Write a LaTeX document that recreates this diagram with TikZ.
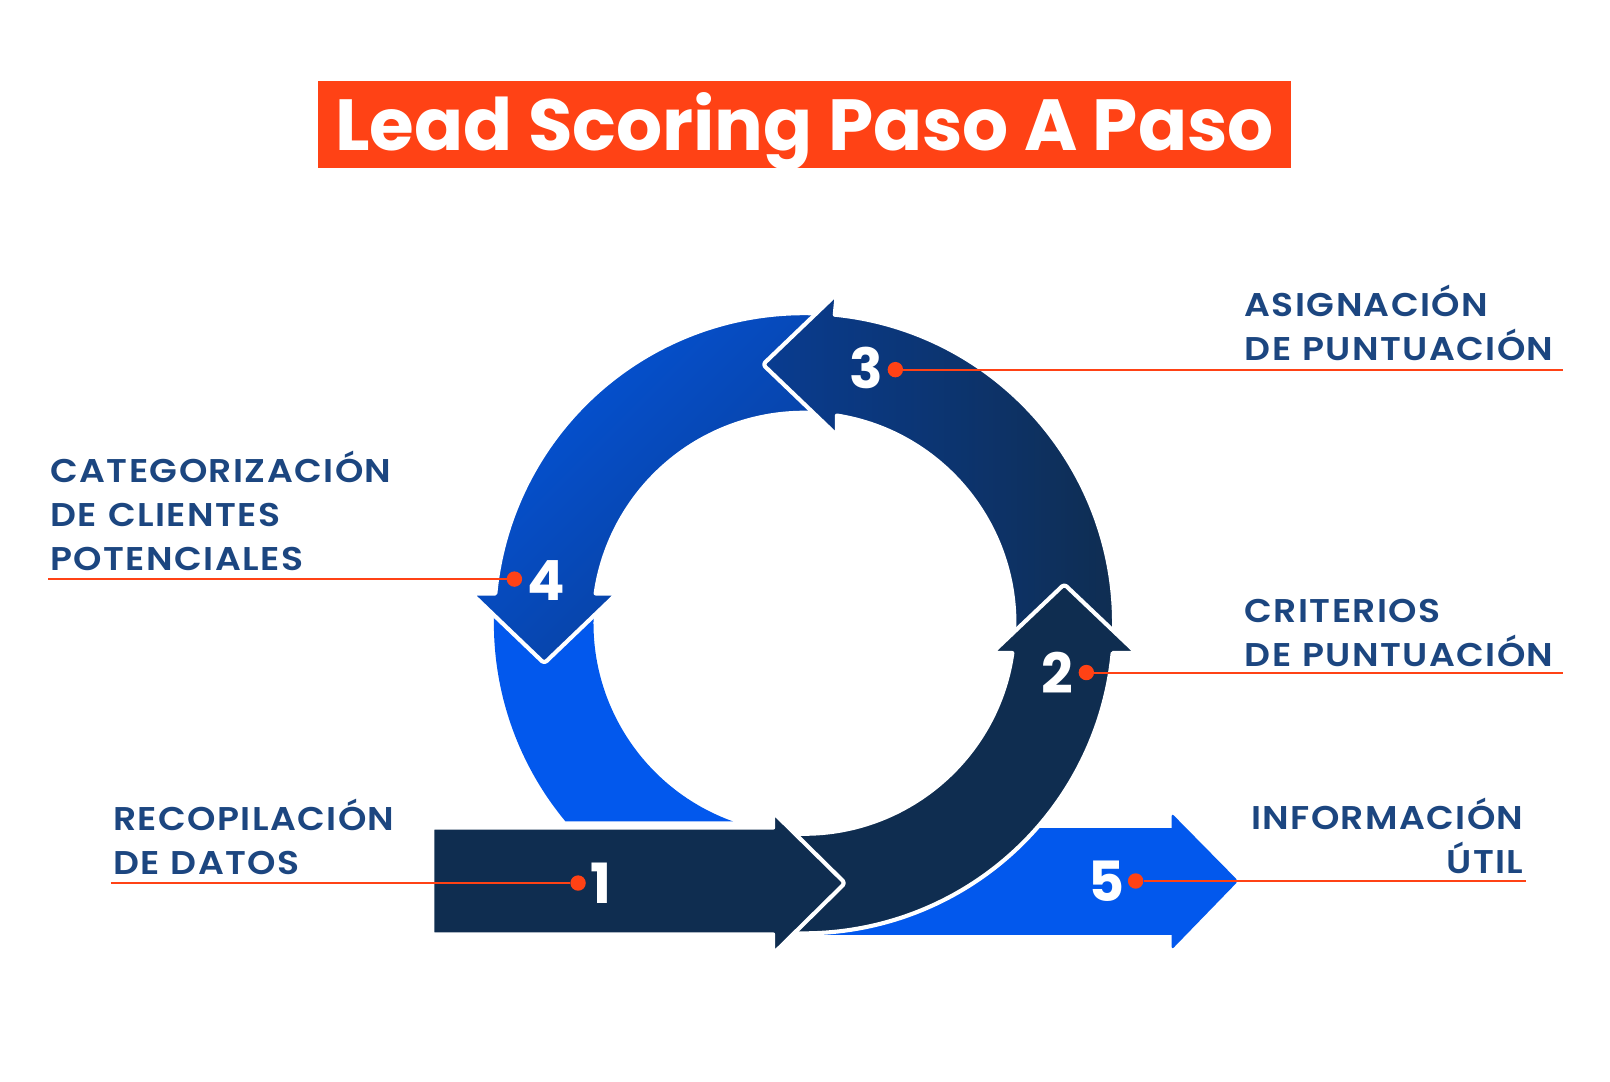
\documentclass[tikz,border=0pt]{standalone}
\usepackage{fontspec}
\setmainfont{Poppins}
\newfontfamily\lblfont{Poppins SemiBold}[FakeStretch=1.1,LetterSpace=4.3,WordSpace=1.1]
\definecolor{navy}{RGB}{15,45,80}
\definecolor{midblue}{RGB}{9,60,145}
\definecolor{upblue}{RGB}{7,70,168}
\definecolor{leftblue}{RGB}{4,84,218}
\definecolor{brightblue}{RGB}{2,88,237}
\definecolor{scorered}{RGB}{255,66,21}
\definecolor{labelblue}{RGB}{28,70,128}

\begin{document}
\begin{tikzpicture}[x=1pt,y=1pt,
  seg/.style={draw=white,line width=4,line join=round},
  dot/.style={circle,fill=scorered,inner sep=0,minimum size=15},
  leader/.style={draw=scorered,line width=2},
  num/.style={text=white,font=\fontsize{54}{60}\selectfont\bfseries,inner sep=0},
  lbl/.style={text=labelblue,font=\fontsize{32}{43}\selectfont\lblfont,inner sep=0}]
  \useasboundingbox (0,0) rectangle (1568,1053);
  \coordinate (O) at (783,446);
  % title
  \node[fill=scorered,minimum width=947,minimum height=85,inner sep=0,text height=51,text depth=0,
    text=white,font=\fontsize{70.5}{80}\selectfont\bfseries] (title) at (783.5,931.5) {Lead Scoring Paso A Paso};
  % arrows, back to front
  \path[fill=brightblue] (800,142.6) -- (830,246.4) -- (1141,246.4) [rounded corners=3] -- (1141,261) -- (1206,195) -- (1141,128) [sharp corners] -- (1141,142.6) -- cycle;
  \path[fill=brightblue] (O) ++(175:302) arc[start angle=175,end angle=219.7,radius=302] -- (713.9,253) arc[start angle=250.3,end angle=175,radius=205] -- cycle;
  \path[seg,left color=leftblue,middle color=upblue,right color=midblue,shading angle=45] (O) ++(80:302) arc[start angle=80,end angle=174.49,radius=302] [rounded corners=3] -- (459,475) -- (530,407) -- (601,475) [sharp corners] -- (580.1,475) arc[start angle=171.87,end angle=80,radius=205] -- cycle;
  \path[seg,left color=midblue,right color=navy] (O) ++(-4:302) arc[start angle=-4,end angle=84.3,radius=302] [rounded corners=3] -- (815,767) -- (743,698) -- (815,629) [sharp corners] -- (815,648.3) arc[start angle=81,end angle=-4,radius=205] -- cycle;
  \path[seg,fill=navy] (O) ++(262:205) arc[start angle=262,end angle=351.87,radius=205] [rounded corners=3] -- (966,417) -- (1036.5,484) -- (1107,417) [sharp corners] -- (1083.6,417) arc[start angle=354.49,end angle=262,radius=302] -- cycle;
  \path[seg,fill=navy] (421,143) -- (421,247) -- (753,247) [rounded corners=3] -- (753,262) -- (823,193) -- (753,124) [sharp corners] -- (753,143) -- cycle;
  % numbers
  \node[num] (n1) at (585,193) {1};
  \node[num] (n2) at (1030,398) {2};
  \node[num] (n3) at (844,695) {3};
  \node[num] (n4) at (532,488) {4};
  \node[num] (n5) at (1078,195) {5};
  % leaders
  \node[dot] (d1) at (563,193) {};
  \node[dot] (d2) at (1058,398) {};
  \node[dot] (d3) at (872,693) {};
  \node[dot] (d4) at (501,489) {};
  \node[dot] (d5) at (1106,195) {};
  \coordinate (e1) at (108,193);
  \coordinate (e2) at (1522,398);
  \coordinate (e3) at (1522,693);
  \coordinate (e4) at (47,489);
  \coordinate (e5) at (1486,195);
  \draw[leader] (e1) -- (d1);
  \draw[leader] (d2) -- (e2);
  \draw[leader] (d3) -- (e3);
  \draw[leader] (e4) -- (d4);
  \draw[leader] (d5) -- (e5);
  % labels (base = last line)
  \node[lbl,align=left,anchor=base west] (l1) at (110,201) {RECOPILACIÓN\\DE DATOS};
  \node[lbl,align=left,anchor=base west] (l2) at (1212,404) {CRITERIOS\\DE PUNTUACIÓN};
  \node[lbl,align=left,anchor=base west] (l3) at (1212,702) {ASIGNACIÓN\\DE PUNTUACIÓN};
  \node[lbl,align=left,anchor=base west] (l4) at (49,497) {CATEGORIZACIÓN\\DE CLIENTES\\POTENCIALES};
  \node[lbl,align=right,anchor=base east] (l5) at (1484,202) {INFORMACIÓN\\ÚTIL};
\end{tikzpicture}
\end{document}
